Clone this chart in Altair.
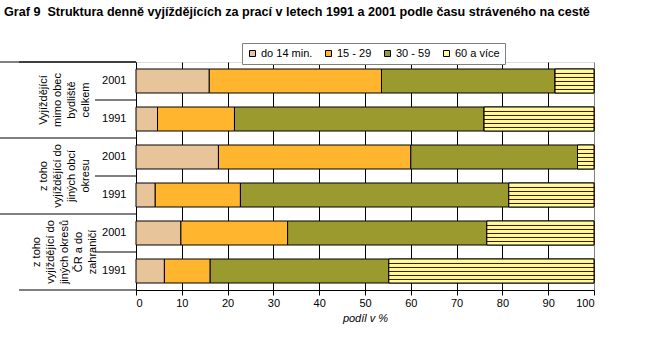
import altair as alt
import pandas as pd

# ---------------- data ----------------
group_labels = [
    "Vyjíždějící\nmimo obec\nbydliště\ncelkem",
    "z toho\nvyjíždějící do\njiných obcí\nokresu",
    "z toho\nvyjíždějící do\njiných okresů\nČR a do\nzahraničí",
]
years = ["2001", "1991"]
categories = ["do 14 min.", "15 - 29", "30 - 59", "60 a více"]
# bars in order: (group1 2001, group1 1991, group2 2001, group2 1991, group3 2001, group3 1991)
do14 = [16.0, 4.7, 18.0, 4.2, 9.8, 6.2]
m15_29 = [37.6, 16.8, 42.0, 18.6, 23.3, 10.0]
m30_59 = [37.9, 54.5, 36.4, 58.6, 43.5, 39.0]
m60 = [8.5, 24.0, 3.6, 18.6, 23.4, 44.8]
series = [do14, m15_29, m30_59, m60]

colors = ["#E8C49A", "#FFB52E", "#9A9A2E", "#FFFF99"]

rows, keys, meta = [], [], []
for gi, glab in enumerate(group_labels):
    for yi, yr in enumerate(years):
        idx = gi * 2 + yi
        key = f"{gi}|{yr}"
        keys.append(key)
        meta.append({"key": key, "year": yr, "gi": gi, "label": glab})
        for ci, cat in enumerate(categories):
            rows.append({"key": key, "cat": cat, "order": ci, "value": series[ci][idx]})

df = pd.DataFrame(rows)
mdf = pd.DataFrame(meta)
last_key = keys[-1]

FONT = "Liberation Sans"
BAR_H = 24

# ---------------- encodings ----------------
yscale = alt.Scale(domain=keys, paddingInner=0, paddingOuter=0)
y_axis = alt.Axis(
    title=None, ticks=False, domainColor="black", labelExpr="split(datum.label, '|')[1]",
    labelFontSize=11, labelColor="black", labelPadding=10, labelFont=FONT,
)
x_scale = alt.Scale(domain=[0, 100], nice=False)
x_axis = alt.Axis(
    values=list(range(0, 101, 10)), grid=True,
    gridColor={"condition": {"test": "datum.value >= 100", "value": "#808080"}, "value": "black"},
    domainColor="black", tickColor="black", tickSize=5, labelFontSize=11, labelColor="black",
    labelPadding=2, labelFont=FONT, title="podíl v %", titleFontStyle="italic",
    titleFontWeight="normal", titleFontSize=11, titleFont=FONT, titleColor="black",
    titlePadding=4,
)

base = alt.Chart(df).transform_stack(
    stack="value", as_=["x0", "x1"], groupby=["key"], sort=[alt.SortField("order")]
)

bars = base.mark_bar(height=BAR_H, stroke="black", strokeWidth=1).encode(
    y=alt.Y("key:N", scale=yscale, axis=y_axis, sort=keys),
    x=alt.X("x0:Q", scale=x_scale, axis=x_axis),
    x2="x1:Q",
    color=alt.Color(
        "cat:N",
        scale=alt.Scale(domain=categories, range=colors),
        legend=alt.Legend(
            title=None, orient="none", legendX=106, legendY=-19, direction="horizontal",
            strokeColor="#808080", fillColor="white", padding=5, symbolType="square",
            symbolSize=36, symbolStrokeColor="black", symbolStrokeWidth=1, labelFontSize=11,
            labelFont=FONT, labelColor="black", columnPadding=10, labelOffset=3,
            gridAlign="none",
        ),
    ),
)

# horizontal dark red lines texture for "60 a více" (1px lines every 4px)
line_rows = [4, 8, 12, 16, 20]
stops = [alt.GradientStop(offset=0, color="#FFFF99")]
for r in line_rows:
    a, b = r / BAR_H, (r + 1) / BAR_H
    stops += [
        alt.GradientStop(offset=a, color="#FFFF99"),
        alt.GradientStop(offset=a, color="#800000"),
        alt.GradientStop(offset=b, color="#800000"),
        alt.GradientStop(offset=b, color="#FFFF99"),
    ]
stops.append(alt.GradientStop(offset=1, color="#FFFF99"))
stripe = alt.LinearGradient(gradient="linear", x1=0, y1=0, x2=0, y2=1, stops=stops)
bars60 = base.transform_filter(alt.datum.cat == categories[3]).mark_bar(
    height=BAR_H, stroke="black", strokeWidth=1, fill=stripe
).encode(
    y=alt.Y("key:N", scale=yscale, sort=keys),
    x=alt.X("x0:Q", scale=x_scale),
    x2="x1:Q",
)

mbase = alt.Chart(mdf)
rule_group = mbase.transform_filter(alt.datum.year == "2001").mark_rule(color="black").encode(
    y=alt.Y("key:N", scale=yscale, sort=keys, bandPosition=0),
    x=alt.value(-136), x2=alt.value(0),
)
rule_top = mbase.transform_filter(alt.datum.key == keys[0]).mark_rule(color="black").encode(
    y=alt.Y("key:N", scale=yscale, sort=keys, bandPosition=0),
    x=alt.value(-117), x2=alt.value(0),
)
rule_year = mbase.transform_filter(alt.datum.year == "1991").mark_rule(color="black").encode(
    y=alt.Y("key:N", scale=yscale, sort=keys, bandPosition=0),
    x=alt.value(-41), x2=alt.value(0),
)
rule_bottom = mbase.transform_filter(alt.datum.key == last_key).mark_rule(color="black").encode(
    y=alt.Y("key:N", scale=yscale, sort=keys, bandPosition=1),
    x=alt.value(-117), x2=alt.value(0),
)
LH = 14
glabels = mbase.transform_filter(alt.datum.year == "1991").transform_calculate(
    px=f"-71 - (length(split(datum.label, '\\n')) - 1) * {LH / 2}"
).mark_text(
    angle=270, align="center", baseline="middle", lineBreak="\n", fontSize=11,
    lineHeight=LH, font=FONT, color="black",
).encode(
    y=alt.Y("key:N", scale=yscale, sort=keys, bandPosition=0),
    x=alt.X("px:Q", scale=None),
    text="label:N",
)

chart = alt.layer(bars, bars60, rule_group, rule_top, rule_year, rule_bottom, glabels).properties(
    width=458, height=228,
    autosize=alt.AutoSizeParams(type="none"),
    padding={"left": 136, "top": 62, "right": 53, "bottom": 51},
    title=alt.TitleParams(
        "Graf 9\u00a0 Struktura denně vyjíždějících za prací v letech 1991 a 2001 podle času stráveného na cestě",
        anchor="start", frame="group", dx=-132, font=FONT, fontSize=12.6,
        fontWeight="bold", color="black", offset=24,
    ),
).configure_view(stroke="#808080", strokeWidth=1).configure(background="white")

chart.save("out.html", embed_options={"renderer": "svg", "actions": False})
